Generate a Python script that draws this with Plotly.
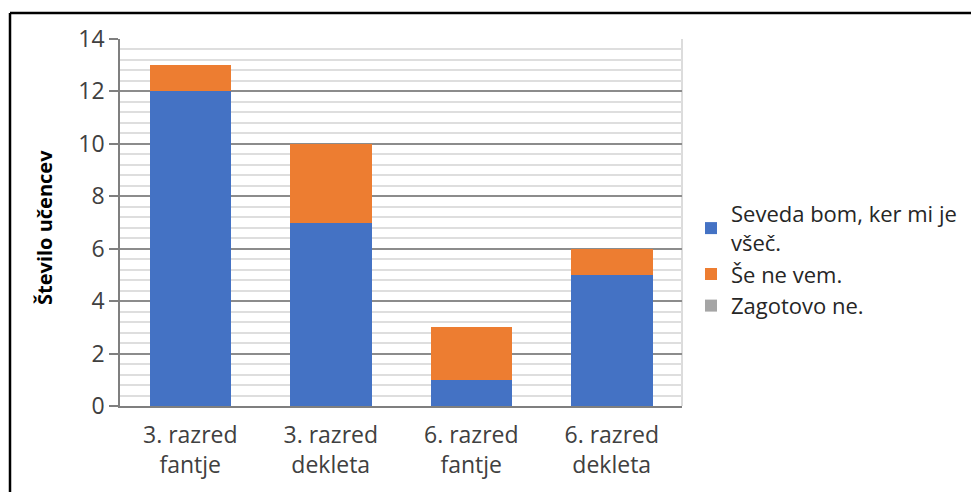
import plotly.graph_objects as go

categories = ["3. razred<br>fantje", "3. razred<br>dekleta", "6. razred<br>fantje", "6. razred<br>dekleta"]
series_names = ["Seveda bom, ker mi je<br>všeč.", "Še ne vem.", "Zagotovo ne."]
seveda = [12, 7, 1, 5]
se_ne_vem = [1, 3, 2, 1]
zagotovo_ne = [0, 0, 0, 0]
colors = ["#4472C4", "#ED7D31", "#A5A5A5"]

# page body has an 8px margin; figure sized to fit the 979x500 window
OFF = 8
W, H = 979 - 2 * OFF, 500 - 2 * OFF
# plot area in screen pixels
SL, SR, ST, SB = 120, 682, 39, 406
L, R, T, B = SL - OFF, SR - OFF, ST - OFF, SB - OFF

def px(x):  # screen x -> paper
    return (x - SL) / (SR - SL)

def py(y):  # screen y -> paper
    return (SB - y) / (SB - ST)

fig = go.Figure()
for name, vals, c in zip(series_names, [seveda, se_ne_vem, zagotovo_ne], colors):
    fig.add_trace(go.Bar(x=categories, y=vals, name=name, marker=dict(color=c, line=dict(width=0))))

font_family = "Open Sans, Noto Sans, sans-serif"
fig.update_layout(
    width=W, height=H,
    margin=dict(l=L, r=W - R, t=T, b=H - B, autoexpand=False),
    barmode="stack",
    bargap=0.42,
    plot_bgcolor="white",
    paper_bgcolor="white",
    font=dict(family=font_family, size=23, color="#404040"),
    showlegend=True,
    legend=dict(
        x=px(691), y=py(193), xanchor="left", yanchor="top",
        font=dict(size=22, color="#262626"),
        traceorder="normal",
        itemwidth=30,
        bgcolor="rgba(0,0,0,0)",
    ),
    xaxis=dict(
        showline=True, linecolor="#7f7f7f", linewidth=1.5,
        ticks="", showgrid=False,
        tickfont=dict(size=23, color="#404040"),
        ticklabelstandoff=8,
    ),
    yaxis=dict(
        range=[0, 14], tickvals=[0, 2, 4, 6, 8, 10, 12, 14],
        showline=True, linecolor="#7f7f7f", linewidth=1.5,
        ticks="outside", ticklen=9, tickcolor="#7f7f7f", tickwidth=1.5,
        showgrid=True, gridcolor="#8c8c8c", gridwidth=1.5,
        zeroline=False,
        tickfont=dict(size=23, color="#404040"),
        minor=dict(dtick=0.4, tick0=0, showgrid=True, gridcolor="#dedede", gridwidth=2, ticks=""),
    ),
)

# right border of plot area
fig.add_shape(type="line", xref="paper", yref="paper", x0=1, x1=1, y0=0, y1=1,
              line=dict(color="#d0d0d0", width=1.5), layer="below")
# outer frame: only top and left edges are inside the picture
fig.add_shape(type="line", xref="paper", yref="paper",
              x0=px(10), x1=px(990), y0=py(13), y1=py(13),
              line=dict(color="black", width=2.5))
fig.add_shape(type="line", xref="paper", yref="paper",
              x0=px(10), x1=px(10), y0=py(13), y1=py(510),
              line=dict(color="black", width=2.5))

fig.add_annotation(
    text="<b>Število učencev</b>", textangle=-90,
    xref="paper", yref="paper", x=px(45), y=py(228),
    xanchor="center", yanchor="middle", showarrow=False,
    font=dict(size=20, color="#000000", family=font_family),
)

fig.write_html("out.html")
